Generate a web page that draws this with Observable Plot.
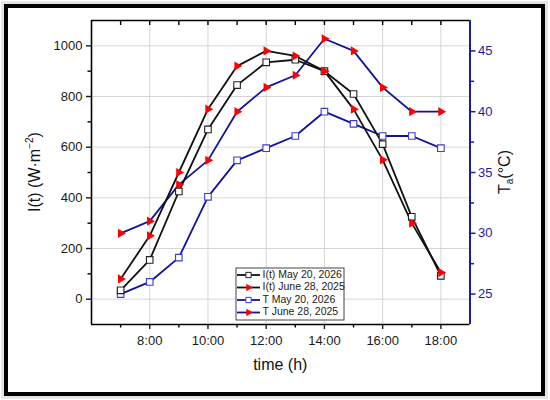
<!DOCTYPE html>
<html>
<head>
<meta charset="utf-8">
<script src="https://cdn.jsdelivr.net/npm/d3@7"></script>
<script src="https://cdn.jsdelivr.net/npm/@observablehq/plot@0.6"></script>
<style>
  html, body { margin: 0; padding: 0; background: #fff; }
  #wrap { position: relative; width: 550px; height: 400px; overflow: hidden; }
  #wrap svg { position: absolute; left: 0; top: 0; }
  #frame { position: absolute; left: 4px; top: 4px; width: 541px; height: 392px; box-sizing: border-box;
           border: 4px solid #000; pointer-events: none; box-shadow: 0 0 0 3px #e4e4e4; }
</style>
</head>
<body>
<div id="wrap"><div id="frame"></div></div>
<script>
// ---- data ----
const hours = [7, 8, 9, 10, 11, 12, 13, 14, 15, 16, 17, 18];
const irrMay2026 = [35, 155, 425, 670, 845, 935, 945, 900, 810, 612, 325, 92];
const irrJun2025 = [80, 250, 500, 750, 920, 980, 960, 900, 750, 550, 300, 105];
const tempMay2026 = [25, 26, 28, 33, 36, 37, 38, 40, 39, 38, 38, 37];
const tempJun2025 = [30, 31, 34, 36, 40, 42, 43, 46, 45, 42, 40, 40];

const xTicks = [8, 10, 12, 14, 16, 18];
const xTickLabels = ["8:00", "10:00", "12:00", "14:00", "16:00", "18:00"];
const xMinor = [7, 9, 11, 13, 15, 17];
const leftTicks = [0, 200, 400, 600, 800, 1000];
const leftMinor = [100, 300, 500, 700, 900];
const rightTicks = [25, 30, 35, 40, 45];
const rightMinor = [27.5, 32.5, 37.5, 42.5];

const seriesNames = ["I(t) May 20, 2026", "I(t) June 28, 2025", "T May 20, 2026", "T June 28, 2025"];

// ---- scales ----
const xDomain = [6, 19];
const leftDomain = [-100, 1100];
const rightDomain = [22.5, 47.5];
const toLeft = t => leftDomain[0] + (t - rightDomain[0]) / (rightDomain[1] - rightDomain[0]) * (leftDomain[1] - leftDomain[0]);

const BLACK = "#111";
const BLUE = "#12129c";
const BLUE_AX = "#1c1ca8";
const BLUE_SQ = "#3c3cd4";
const RED = "#ff0000";

const rows = (vals, name, conv = v => v) => hours.map((h, i) => ({hour: h, value: conv(vals[i]), series: name}));
const dIMay = rows(irrMay2026, seriesNames[0]);
const dIJun = rows(irrJun2025, seriesNames[1]);
const dTMay = rows(tempMay2026, seriesNames[2], toLeft);
const dTJun = rows(tempJun2025, seriesNames[3], toLeft);

const W = 550, H = 400;
const mL = 91, mR = 80.5, mT = 20, mB = 76;

const TRI_R = 3.4, SQ_R = 3.7;

const chart = Plot.plot({
  width: W, height: H,
  marginLeft: mL, marginRight: mR, marginTop: mT, marginBottom: mB,
  style: {fontFamily: "'Liberation Sans', Arial, sans-serif", background: "transparent", overflow: "visible"},
  x: {domain: xDomain},
  y: {domain: leftDomain},
  marks: [
    Plot.gridX(xTicks, {stroke: "#d6d6d6", strokeOpacity: 1}),
    Plot.gridY(leftTicks, {stroke: "#d6d6d6", strokeOpacity: 1}),

    Plot.line(dTMay, {x: "hour", y: "value", stroke: BLUE, strokeWidth: 1.8}),
    Plot.line(dTJun, {x: "hour", y: "value", stroke: BLUE, strokeWidth: 1.8}),
    Plot.line(dIMay, {x: "hour", y: "value", stroke: BLACK, strokeWidth: 1.8}),
    Plot.line(dIJun, {x: "hour", y: "value", stroke: BLACK, strokeWidth: 1.8}),

    Plot.dot(dTMay, {x: "hour", y: "value", symbol: "square", r: SQ_R, fill: "white", stroke: BLUE_SQ, strokeWidth: 1.1}),
    Plot.dot(dTJun, {x: "hour", y: "value", symbol: "triangle", r: TRI_R, rotate: 90, fill: RED, stroke: "none"}),
    Plot.dot(dIMay, {x: "hour", y: "value", symbol: "square", r: SQ_R, fill: "white", stroke: "#222", strokeWidth: 1.1}),
    Plot.dot(dIJun, {x: "hour", y: "value", symbol: "triangle", r: TRI_R, rotate: 90, fill: RED, stroke: "none"}),

    // frame lines
    Plot.ruleY([leftDomain[0]], {stroke: "#000", strokeWidth: 1.6}),
    Plot.ruleY([leftDomain[1]], {stroke: "#000", strokeWidth: 1.6}),
    Plot.ruleX([xDomain[0]], {stroke: "#000", strokeWidth: 1.6}),
    Plot.ruleX([xDomain[1]], {stroke: BLUE_AX, strokeWidth: 2}),

    // bottom axis
    Plot.axisX(xTicks, {anchor: "bottom", tickSize: 5, tickPadding: 6, fontSize: 13, strokeWidth: 1.4,
      tickFormat: d => xTickLabels[xTicks.indexOf(d)], label: null, color: "#1a1a1a"}),
    Plot.axisX(xMinor, {anchor: "bottom", tickSize: 3.5, tickFormat: () => "", label: null, strokeWidth: 1.4}),
    // top axis (inward ticks, shifted down into the frame)
    Plot.axisX(hours, {anchor: "top", tickSize: 4, dy: 4, tickFormat: () => "", label: null, strokeWidth: 1.4, color: "#000"}),

    // left axis
    Plot.axisY(leftTicks, {anchor: "left", tickSize: 5, tickPadding: 4, fontSize: 13, strokeWidth: 1.4,
      tickFormat: d => String(d), label: null, color: "#1a1a1a"}),
    Plot.axisY(leftMinor, {anchor: "left", tickSize: 3.5, tickFormat: () => "", label: null, strokeWidth: 1.4}),

    // right axis (temperature)
    Plot.axisY(rightTicks.map(toLeft), {anchor: "right", tickSize: 5, tickPadding: 3, fontSize: 13, strokeWidth: 1.5,
      tickFormat: d => String(rightTicks[rightTicks.map(toLeft).indexOf(d)]), label: null, color: BLUE_AX}),
    Plot.axisY(rightMinor.map(toLeft), {anchor: "right", tickSize: 3.5, tickFormat: () => "", label: null,
      strokeWidth: 1.5, color: BLUE_AX})
  ]
});

const wrap = document.getElementById("wrap");
wrap.insertBefore(chart, document.getElementById("frame"));

const svg = d3.select(chart);
const cx = (mL + (W - mR)) / 2;
const cy = (mT + (H - mB)) / 2;
const FONT = "'Liberation Sans', Arial, sans-serif";

// x label
svg.append("text").attr("x", cx).attr("y", 370).attr("text-anchor", "middle")
  .attr("font-family", FONT).attr("font-size", 16).attr("fill", "#111").text("time (h)");

// left y label: I(t) (W·m⁻²)
const yl = svg.append("text").attr("transform", `translate(36,${cy}) rotate(-90)`)
  .attr("text-anchor", "middle").attr("dominant-baseline", "middle")
  .attr("font-family", FONT).attr("font-size", 16).attr("fill", "#111");
yl.append("tspan").text("I(t) (W·m");
yl.append("tspan").attr("font-size", 10).attr("dy", -6).text("−2");
yl.append("tspan").attr("dy", 6).text(")");

// right y label: Ta(°C)
const yr = svg.append("text").attr("transform", `translate(506,${cy}) rotate(-90)`)
  .attr("text-anchor", "middle").attr("dominant-baseline", "middle")
  .attr("font-family", FONT).attr("font-size", 16).attr("fill", "#111");
yr.append("tspan").text("T");
yr.append("tspan").attr("font-size", 10).attr("dy", 4).text("a");
yr.append("tspan").attr("dy", -4).text("(°C)");

// legend
const lg = svg.append("g").attr("transform", "translate(236,268)");
lg.append("rect").attr("width", 108).attr("height", 52).attr("fill", "white").attr("stroke", "#444").attr("stroke-width", 1);
const legendStyles = [
  {line: BLACK, sym: d3.symbolSquare, fill: "white", stroke: "#222", rot: 0, size: 28},
  {line: BLACK, sym: d3.symbolTriangle2, fill: RED, stroke: "none", rot: 90, size: 40},
  {line: BLUE, sym: d3.symbolSquare, fill: "white", stroke: BLUE_SQ, rot: 0, size: 28},
  {line: BLUE, sym: d3.symbolTriangle2, fill: RED, stroke: "none", rot: 90, size: 40}
];
seriesNames.forEach((name, i) => {
  const s = legendStyles[i];
  const y = 7 + i * 12.5;
  lg.append("line").attr("x1", 1).attr("x2", 24).attr("y1", y).attr("y2", y)
    .attr("stroke", s.line).attr("stroke-width", 1.8);
  lg.append("path").attr("d", d3.symbol(s.sym, s.size)())
    .attr("transform", `translate(12.5,${y}) rotate(${s.rot})`)
    .attr("fill", s.fill).attr("stroke", s.stroke).attr("stroke-width", 1);
  lg.append("text").attr("x", 26.5).attr("y", y).attr("dominant-baseline", "middle")
    .attr("text-anchor", "start")
    .attr("font-family", FONT).attr("font-size", 10.5).attr("fill", "#222").text(name);
});
</script>
</body>
</html>
